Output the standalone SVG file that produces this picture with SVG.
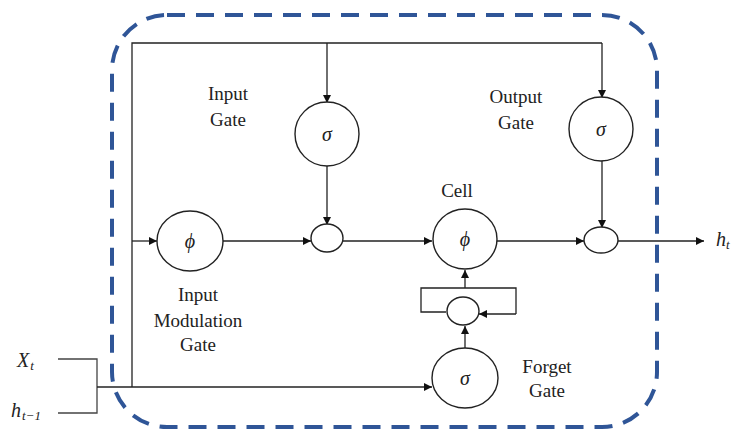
<svg xmlns="http://www.w3.org/2000/svg" width="734" height="430" viewBox="0 0 734 430">
  <defs>
    <marker id="arrow" viewBox="0 0 10 10" refX="10" refY="5" markerWidth="9" markerHeight="8" markerUnits="userSpaceOnUse" orient="auto">
      <path d="M0,0 L10,5 L0,10 Z" fill="#111"/>
    </marker>
    <style>
      .wire { fill: none; stroke: #222; stroke-width: 1.3; }
      .wire-a { fill: none; stroke: #222; stroke-width: 1.3; marker-end: url(#arrow); }
      .input { fill: none; stroke: #444; stroke-width: 1.3; }
      .node { fill: #fff; stroke: #222; stroke-width: 1.4; }
      .label { font-family: "Liberation Serif", "Times New Roman", serif; font-size: 19px; fill: #222; text-anchor: middle; }
      .sym { font-family: "Liberation Serif", "Times New Roman", serif; font-style: italic; font-size: 20px; fill: #222; text-anchor: middle; }
      .var { font-family: "Liberation Serif", "Times New Roman", serif; font-style: italic; font-size: 20px; fill: #222; }
      .sub { font-size: 13px; }
      .frame { fill: none; stroke: #2F5597; stroke-width: 4; stroke-dasharray: 18 11; }
    </style>
  </defs>

  <rect fill="#fff" x="0" y="0" width="734" height="430"/>

  <!-- LSTM cell boundary -->
  <rect class="frame" x="112" y="15" width="545" height="412" rx="55" ry="55"/>

  <!-- connectors -->
  <g id="connectors">
    <!-- input bracket joining x_t and h_{t-1} -->
    <polyline class="input" points="58,359 97,359 97,413 58,413"/>
    <!-- shared input bus -->
    <line class="wire-a" x1="97" y1="387" x2="432" y2="387"/>
    <polyline class="wire" points="132,387 132,43 602,43"/>
    <line class="wire-a" x1="327" y1="43" x2="327" y2="103"/>
    <line class="wire-a" x1="602" y1="43" x2="602" y2="98"/>
    <line class="wire-a" x1="132" y1="241" x2="157" y2="241"/>
    <!-- main row -->
    <line class="wire-a" x1="223" y1="241" x2="311" y2="241"/>
    <line class="wire-a" x1="327" y1="166" x2="327" y2="225"/>
    <line class="wire-a" x1="343" y1="241" x2="432" y2="241"/>
    <line class="wire-a" x1="497" y1="241" x2="584" y2="241"/>
    <line class="wire-a" x1="602" y1="160" x2="602" y2="228"/>
    <line class="wire-a" x1="618" y1="241" x2="704" y2="241"/>
    <!-- cell recurrence loop -->
    <polyline class="wire" points="446,312 421,312 421,288 516,288 516,314"/>
    <line class="wire-a" x1="516" y1="314" x2="479" y2="314"/>
    <line class="wire-a" x1="465" y1="288" x2="465" y2="270"/>
    <line class="wire-a" x1="465" y1="348" x2="465" y2="326"/>
  </g>

  <!-- input gate -->
  <g id="input-gate">
    <circle class="node" cx="327" cy="134" r="32"/>
    <text class="sym" x="327" y="141">σ</text>
    <text class="label" x="228" y="100">Input</text>
    <text class="label" x="228" y="126">Gate</text>
  </g>

  <!-- output gate -->
  <g id="output-gate">
    <circle class="node" cx="601" cy="129" r="32"/>
    <text class="sym" x="601" y="136">σ</text>
    <text class="label" x="516" y="103">Output</text>
    <text class="label" x="516" y="129">Gate</text>
  </g>

  <!-- input modulation gate -->
  <g id="input-modulation-gate">
    <ellipse class="node" cx="190" cy="241" rx="33" ry="30"/>
    <text class="sym" x="190" y="248">ϕ</text>
    <text class="label" x="198" y="301">Input</text>
    <text class="label" x="198" y="327">Modulation</text>
    <text class="label" x="198" y="351">Gate</text>
  </g>

  <!-- input product -->
  <g id="input-product">
    <ellipse class="node" cx="327" cy="238" rx="16" ry="14"/>
  </g>

  <!-- cell state -->
  <g id="cell">
    <ellipse class="node" cx="465" cy="239" rx="32" ry="30"/>
    <text class="sym" x="465" y="246">ϕ</text>
    <text class="label" x="457" y="197">Cell</text>
  </g>

  <!-- forget product -->
  <g id="forget-product">
    <ellipse class="node" cx="463" cy="311" rx="16" ry="14"/>
  </g>

  <!-- forget gate -->
  <g id="forget-gate">
    <ellipse class="node" cx="465" cy="378" rx="33" ry="30"/>
    <text class="sym" x="465" y="385">σ</text>
    <text class="label" x="547" y="373">Forget</text>
    <text class="label" x="547" y="397">Gate</text>
  </g>

  <!-- output product -->
  <g id="output-product">
    <ellipse class="node" cx="601" cy="240" rx="17" ry="13"/>
  </g>

  <!-- inputs and output -->
  <g id="x-t">
    <text class="var" x="17" y="367">X<tspan class="sub" dx="1" dy="3">t</tspan></text>
  </g>
  <g id="h-prev">
    <text class="var" x="11" y="417">h<tspan class="sub" dx="1" dy="3">t−1</tspan></text>
  </g>
  <g id="h-t">
    <text class="var" x="716" y="246">h<tspan class="sub" dx="0" dy="3">t</tspan></text>
  </g>
</svg>
